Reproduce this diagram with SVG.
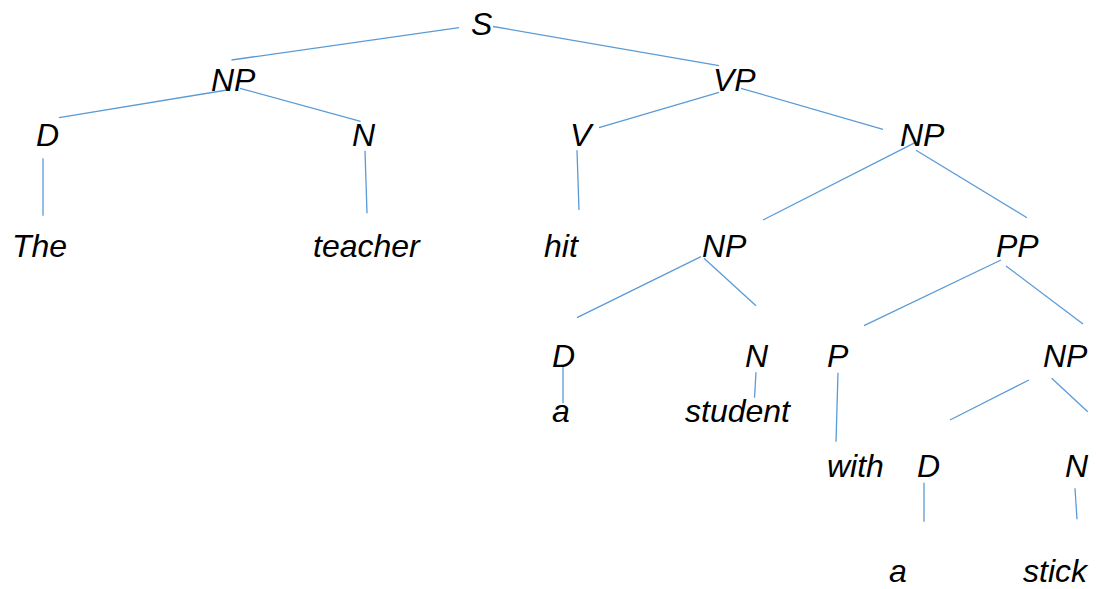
<svg xmlns="http://www.w3.org/2000/svg" width="1096" height="589" viewBox="0 0 1096 589">
<style>
text{font-family:"Liberation Sans",Arial,sans-serif;font-style:italic;font-size:32px;fill:#000}
.e line{stroke:#5B9BD5;stroke-width:1.3;fill:none}
</style>
<rect width="1096" height="589" fill="#fff"/>
<g id="connectors" class="e">
<line x1="459" y1="27.7" x2="231.5" y2="60"/>
<line x1="493" y1="26.5" x2="719" y2="65.7"/>
<line x1="227" y1="90" x2="59" y2="117.7"/>
<line x1="240" y1="88.3" x2="360.6" y2="121.3"/>
<line x1="43" y1="158.3" x2="43" y2="215.7"/>
<line x1="365" y1="150.7" x2="367" y2="213.3"/>
<line x1="719" y1="92.3" x2="599" y2="127.7"/>
<line x1="741" y1="88.3" x2="883" y2="129.3"/>
<line x1="577" y1="150.3" x2="579" y2="210"/>
<line x1="915" y1="142.7" x2="763" y2="220"/>
<line x1="916" y1="150.3" x2="1027" y2="217.7"/>
<line x1="701" y1="256.7" x2="577" y2="317.7"/>
<line x1="704" y1="258.3" x2="756" y2="305.7"/>
<line x1="1001" y1="260" x2="864" y2="325.7"/>
<line x1="1006" y1="266" x2="1083" y2="324"/>
<line x1="563" y1="366.7" x2="563" y2="403.3"/>
<line x1="756" y1="372.3" x2="754.5" y2="397.7"/>
<line x1="838" y1="372.7" x2="836" y2="441.7"/>
<line x1="1029" y1="380" x2="950" y2="420"/>
<line x1="1051.7" y1="378.3" x2="1087.7" y2="411.7"/>
<line x1="924" y1="482.7" x2="924" y2="521.7"/>
<line x1="1075" y1="488.3" x2="1077" y2="519.3"/>
</g>
<g id="n-S"><text x="471" y="35">S</text></g>
<g id="n-NP1"><text x="211" y="90.7">NP</text></g>
<g id="n-VP"><text x="713" y="90.7">VP</text></g>
<g id="n-D1"><text x="36" y="145.7">D</text></g>
<g id="n-N1"><text x="352" y="145.7">N</text></g>
<g id="n-V"><text x="570" y="145.7">V</text></g>
<g id="n-NP2"><text x="900" y="145.7">NP</text></g>
<g id="n-The"><text x="12" y="256.7">The</text></g>
<g id="n-teacher"><text x="313" y="256.7">teacher</text></g>
<g id="n-hit"><text x="544" y="256.7">hit</text></g>
<g id="n-NP3"><text x="702" y="256.7">NP</text></g>
<g id="n-PP"><text x="996" y="256.7">PP</text></g>
<g id="n-D2"><text x="552" y="366.7">D</text></g>
<g id="n-N2"><text x="745" y="366.7">N</text></g>
<g id="n-P"><text x="827" y="366.7">P</text></g>
<g id="n-NP4"><text x="1043" y="366.7">NP</text></g>
<g id="n-a1"><text x="552" y="421.7">a</text></g>
<g id="n-student"><text x="685" y="421.7">student</text></g>
<g id="n-with"><text x="827" y="476.7">with</text></g>
<g id="n-D3"><text x="917" y="476.7">D</text></g>
<g id="n-N3"><text x="1065" y="476.7">N</text></g>
<g id="n-a2"><text x="889" y="582">a</text></g>
<g id="n-stick"><text x="1023" y="582">stick</text></g>
</svg>
